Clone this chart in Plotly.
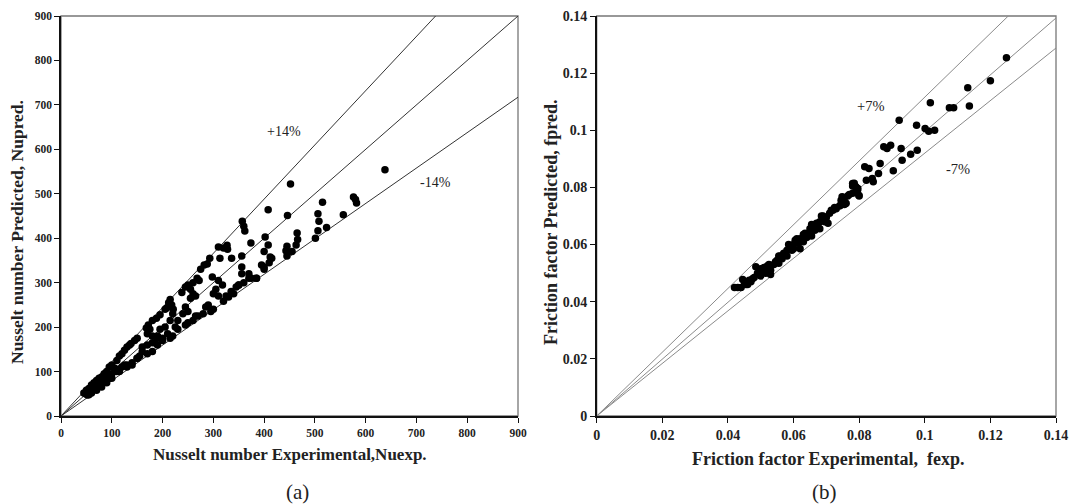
import plotly.graph_objects as go

# ---------------- Panel (a): Nusselt number ----------------
nu_exp = [638, 452, 408, 446, 357, 360, 362, 402, 374, 310, 320, 327, 328, 313, 336, 293,
          282, 288, 275, 268, 272, 260, 250, 255, 245, 238, 298, 265, 260, 215, 212, 218,
          208, 221, 205, 195, 188, 180, 172, 168, 175, 170, 180, 190, 150, 145, 138, 135,
          130, 125, 120, 115, 110, 100, 95, 105, 90, 85, 80, 75, 70, 65, 60, 55, 50, 45,
          48, 52,
          356, 356, 356, 310, 318, 305, 300, 310, 400, 408, 412, 395, 400, 370, 375, 385,
          360, 350, 345, 255, 245, 250, 240, 220, 215, 205, 195, 190, 180, 170, 160, 150,
          140, 130, 120, 110, 100, 90, 80, 70, 60,
          506, 508, 515, 506, 501, 523, 556, 576, 580, 582, 465, 466, 463, 445, 443, 455,
          445, 415, 410, 400, 385, 370, 350, 340, 330, 320, 300, 295, 280, 270, 260, 250,
          245, 230, 220, 215, 200, 190, 180, 170, 150, 140, 130, 115, 100, 90, 80, 70, 60, 55,
          335, 325, 290, 285, 265, 230, 225, 210, 200, 185, 160, 155, 125, 110, 95, 85, 75, 65]
nu_pred = [554, 522, 464, 451, 438, 427, 416, 403, 389, 380, 378, 384, 375, 355, 355, 355,
           340, 342, 330, 310, 305, 300, 295, 285, 290, 278, 313, 270, 275, 262, 255, 250,
           243, 240, 240, 228, 220, 215, 205, 198, 195, 185, 180, 180, 175, 170, 163, 160,
           155, 148, 140, 135, 125, 115, 110, 108, 100, 95, 88, 85, 80, 75, 70, 62, 58, 52,
           50, 47,
           360, 335, 320, 305, 295, 285, 275, 270, 370, 385, 358, 340, 330, 320, 310, 310,
           300, 295, 290, 265, 245, 235, 230, 230, 215, 200, 195, 175, 165, 160, 155, 130,
           120, 115, 110, 100, 95, 85, 75, 68, 62,
           455, 438, 481, 417, 400, 424, 453, 493, 487, 479, 412, 397, 385, 382, 372, 370,
           360, 355, 345, 335, 310, 310, 295, 275, 268, 258, 240, 235, 230, 225, 215, 210,
           205, 195, 180, 175, 170, 160, 145, 140, 130, 115, 110, 100, 85, 75, 65, 58, 52, 48,
           280, 270, 250, 245, 225, 215, 200, 185, 175, 165, 145, 135, 115, 105, 85, 78, 68, 60]

# ---------------- Panel (b): Friction factor ----------------
f_exp = [0.1249, 0.1200, 0.1131, 0.1136, 0.1017, 0.1075, 0.1088, 0.0922, 0.0975, 0.1001,
         0.1012, 0.1030, 0.0896, 0.0885, 0.0875, 0.0928, 0.0977, 0.0957, 0.0931, 0.0904,
         0.0864, 0.0859, 0.0817, 0.0830, 0.0840, 0.0843, 0.0822, 0.0780, 0.0785, 0.0796,
         0.0799, 0.0790, 0.0748, 0.0754, 0.0743, 0.0759,
         0.042, 0.043, 0.044, 0.0445, 0.045, 0.046, 0.0465, 0.047, 0.048, 0.0485,
         0.049, 0.050, 0.050, 0.051, 0.0515, 0.052, 0.053, 0.053, 0.054, 0.0545,
         0.055, 0.0555, 0.056, 0.0565, 0.057, 0.0575, 0.058, 0.058, 0.059, 0.0595,
         0.060, 0.060, 0.061, 0.0615, 0.062, 0.062, 0.063, 0.063, 0.064, 0.0645,
         0.065, 0.0655, 0.066, 0.0665, 0.067, 0.0675, 0.068, 0.068, 0.069, 0.0695,
         0.070, 0.0705, 0.071, 0.072, 0.073, 0.074, 0.0745, 0.075, 0.0755, 0.076,
         0.077, 0.078, 0.0785, 0.079, 0.0795, 0.080, 0.078, 0.0765, 0.0725, 0.0715,
         0.0685, 0.0655, 0.0635, 0.0605, 0.0585, 0.0555, 0.0525, 0.0505, 0.0475, 0.0455]
f_pred = [0.1254, 0.1173, 0.1149, 0.1085, 0.1096, 0.1079, 0.1079, 0.1035, 0.1018, 0.1006,
          0.0997, 0.1000, 0.0948, 0.0936, 0.0942, 0.0936, 0.0930, 0.0916, 0.0895, 0.0858,
          0.0884, 0.0849, 0.0872, 0.0866, 0.0831, 0.0820, 0.0825, 0.0814, 0.0808, 0.0796,
          0.0773, 0.0802, 0.0767, 0.0755, 0.0738, 0.0744,
          0.0450, 0.0450, 0.0450, 0.0478, 0.0470, 0.0460, 0.0475, 0.0470, 0.0485, 0.0522,
          0.0500, 0.0515, 0.0490, 0.0520, 0.0500, 0.0525, 0.0510, 0.0495, 0.0530, 0.0540,
          0.0545, 0.0535, 0.0560, 0.0550, 0.0570, 0.0565, 0.0580, 0.0560, 0.0595, 0.0580,
          0.0600, 0.0585, 0.0620, 0.0605, 0.0620, 0.0585, 0.0610, 0.0635, 0.0625, 0.0640,
          0.0655, 0.0630, 0.0660, 0.0650, 0.0675, 0.0660, 0.0680, 0.0655, 0.0700, 0.0680,
          0.0695, 0.0675, 0.0710, 0.0720, 0.0725, 0.0735, 0.0755, 0.0765, 0.0740, 0.0745,
          0.0775, 0.0805, 0.0815, 0.0800, 0.0790, 0.0770, 0.0780, 0.0770, 0.0730, 0.0720,
          0.0700, 0.0670, 0.0640, 0.0615, 0.0600, 0.0560, 0.0530, 0.0510, 0.0480, 0.0460]

# Reference-line slopes (upper, exact, lower) as drawn
nu_slopes = [1.22, 1.0, 0.797]
f_slopes = [1.116, 0.995, 0.92]
nu_ticks = [0, 100, 200, 300, 400, 500, 600, 700, 800, 900]
f_ticks = [0, 0.02, 0.04, 0.06, 0.08, 0.1, 0.12, 0.14]

W, H = 1073, 504
serif = "Liberation Serif, Times New Roman, serif"

fig = go.Figure()

for s in nu_slopes:
    fig.add_trace(go.Scatter(x=[0, 900], y=[0, 900 * s], mode="lines",
                             line=dict(color="#333333", width=1),
                             xaxis="x", yaxis="y", hoverinfo="skip", showlegend=False))
fig.add_trace(go.Scatter(x=nu_exp, y=nu_pred, mode="markers",
                         marker=dict(color="black", size=7.5),
                         xaxis="x", yaxis="y", showlegend=False))

for s in f_slopes:
    fig.add_trace(go.Scatter(x=[0, 0.14], y=[0, 0.14 * s], mode="lines",
                             line=dict(color="#8a8a8a", width=1),
                             xaxis="x2", yaxis="y2", hoverinfo="skip", showlegend=False))
fig.add_trace(go.Scatter(x=f_exp, y=f_pred, mode="markers",
                         marker=dict(color="black", size=7.5),
                         xaxis="x2", yaxis="y2", showlegend=False))

ydom = [(H - 416) / H, (H - 16) / H]
axis_common = dict(showgrid=False, zeroline=False, showline=True, mirror=False,
                   linecolor="#111111", linewidth=1.5, ticks="outside", ticklen=5,
                   tickcolor="#111111", tickwidth=1.2, automargin=False)

tf_a = dict(family=serif, size=11.5, color="#222", weight="bold")
tf_b = dict(family=serif, size=14, color="#222", weight="bold")

fig.update_layout(
    width=W, height=H, margin=dict(l=0, r=0, t=0, b=0, autoexpand=False),
    paper_bgcolor="white", plot_bgcolor="white",
    xaxis=dict(domain=[61 / W, 518 / W], range=[0, 900], tickvals=nu_ticks,
               tickfont=tf_a, anchor="y", **axis_common),
    yaxis=dict(domain=ydom, range=[0, 900], tickvals=nu_ticks,
               tickfont=tf_a, anchor="x", **axis_common),
    xaxis2=dict(domain=[596.7 / W, 1056 / W], range=[0, 0.14], tickvals=f_ticks,
                tickfont=tf_b, anchor="y2", **axis_common),
    yaxis2=dict(domain=ydom, range=[0, 0.14], tickvals=f_ticks,
                tickfont=tf_b, anchor="x2", **axis_common),
)
fig.update_xaxes(linewidth=2, selector=dict(anchor="y2"))

# gray frame (top/right) around each plot area
for xr, yr in [("x domain", "y domain"), ("x2 domain", "y2 domain")]:
    fig.add_shape(type="rect", xref=xr, yref=yr, x0=0, y0=0, x1=1, y1=1,
                  line=dict(color="#777777", width=1.3), layer="below")

def note(text, x, y, size, angle=0, bold=True):
    fig.add_annotation(text=(f"<b>{text}</b>" if bold else text), xref="paper", yref="paper",
                       x=x / W, y=(H - y) / H, xanchor="center", yanchor="middle",
                       showarrow=False, textangle=angle,
                       font=dict(family=serif, size=size, color="#222"))

note("Nusselt number Experimental,Nuexp.", 290, 454, 17)
note("Nusselt number Predicted, Nupred.", 17, 232, 17.5, angle=-90)
note("Friction factor Experimental,  fexp.", 828, 459, 18)
note("Friction factor Predicted, fpred.", 551, 223, 18, angle=-90)
note("(a)", 297, 492, 21, bold=False)
note("(b)", 824, 492, 21, bold=False)

for txt, xr, yr, xv, yv, sz in [("+14%", "x", "y", 440, 641, 14), ("-14%", "x", "y", 737, 526, 14),
                                 ("+7%", "x2", "y2", 0.0837, 0.1085, 14.5),
                                 ("-7%", "x2", "y2", 0.1102, 0.0864, 14.5)]:
    fig.add_annotation(text=txt, xref=xr, yref=yr, x=xv, y=yv, showarrow=False,
                       font=dict(family=serif, size=sz, color="#222"))

fig.write_html("out.html", config={"displayModeBar": False},
               post_script="document.body.style.margin='0';")
